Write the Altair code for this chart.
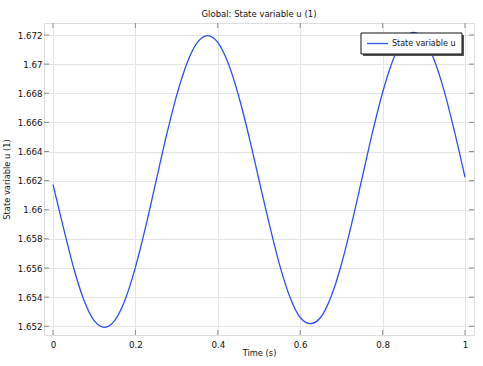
import altair as alt
import pandas as pd

# Data
time_s = [0.0, 0.025, 0.05, 0.075, 0.1, 0.125, 0.15, 0.175, 0.2, 0.225,
          0.25, 0.275, 0.3, 0.325, 0.35, 0.375, 0.4, 0.425, 0.45, 0.475,
          0.5, 0.525, 0.55, 0.575, 0.6, 0.625, 0.65, 0.675, 0.7, 0.725,
          0.75, 0.775, 0.8, 0.825, 0.85, 0.875, 0.9, 0.925, 0.95, 0.975, 1.0]
u_values = [1.66175, 1.65881, 1.65602, 1.65381, 1.65239, 1.65193, 1.65240, 1.65382, 1.65604, 1.65884,
            1.66195, 1.66505, 1.66784, 1.67005, 1.67147, 1.67196, 1.67149, 1.67008, 1.66788, 1.66511,
            1.66205, 1.65901, 1.65622, 1.65401, 1.65260, 1.65218, 1.65262, 1.65404, 1.65626, 1.65906,
            1.66215, 1.66526, 1.66805, 1.67026, 1.67168, 1.67218, 1.67170, 1.67030, 1.66810, 1.66531,
            1.66222]
x_ticks = [0, 0.2, 0.4, 0.6, 0.8, 1.0]
y_ticks = [1.652, 1.654, 1.656, 1.658, 1.66, 1.662, 1.664, 1.666, 1.668, 1.67, 1.672]
series_name = "State variable u"

W, H = 430, 312
FONT = "DejaVu Sans"
LINE_COLOR = "#2f4ff5"
FRAME = "#8c8c8c"

df = pd.DataFrame({"t": time_s, "u": u_values})
xt = pd.DataFrame({"t": x_ticks})
yt = pd.DataFrame({"u": y_ticks})

xscale = alt.Scale(domain=[-0.0218, 1.0218], nice=False, zero=False)
yscale = alt.Scale(domain=[1.65140, 1.672825], nice=False, zero=False)

xaxis = alt.Axis(values=x_ticks, format="~g", grid=True, gridColor="#e4e4e4",
                 ticks=False, domain=False, labelPadding=5, labelOverlap=False,
                 labelFont=FONT, labelFontSize=8.7, labelColor="#111",
                 titleFont=FONT, titleFontSize=8.3, titleFontWeight="normal",
                 titleColor="#111", titlePadding=0)
yaxis = alt.Axis(values=y_ticks, format="~g", grid=True, gridColor="#e4e4e4",
                 ticks=False, domain=False, labelPadding=2, labelOverlap=False,
                 labelFont=FONT, labelFontSize=8.7, labelColor="#111",
                 titleFont=FONT, titleFontSize=8.3, titleFontWeight="normal",
                 titleColor="#111", titlePadding=6)
XT = "Time (s)"
YT = "State variable u (1)"

line = alt.Chart(df).mark_line(color=LINE_COLOR, strokeWidth=1.3, interpolate="monotone").encode(
    x=alt.X("t:Q", scale=xscale, title=XT, axis=xaxis),
    y=alt.Y("u:Q", scale=yscale, title=YT, axis=yaxis),
)

tick_bottom = alt.Chart(xt).mark_rule(color=FRAME, strokeWidth=1).encode(
    x=alt.X("t:Q", scale=xscale, title=XT, axis=xaxis), y=alt.value(H), y2=alt.value(H - 5))
tick_top = alt.Chart(xt).mark_rule(color=FRAME, strokeWidth=1).encode(
    x=alt.X("t:Q", scale=xscale, title=XT, axis=xaxis), y=alt.value(0), y2=alt.value(5))
tick_left = alt.Chart(yt).mark_rule(color=FRAME, strokeWidth=1).encode(
    y=alt.Y("u:Q", scale=yscale, title=YT, axis=yaxis), x=alt.value(0), x2=alt.value(5))
tick_right = alt.Chart(yt).mark_rule(color=FRAME, strokeWidth=1).encode(
    y=alt.Y("u:Q", scale=yscale, title=YT, axis=yaxis), x=alt.value(W), x2=alt.value(W - 5))

# legend box (manual, with drop shadow)
lx, ly, lw, lh = 317, 10, 101, 21
shadow = alt.Chart(pd.DataFrame({"a": [0]})).mark_rect(fill="#555555").encode(
    x=alt.value(lx + 2), x2=alt.value(lx + lw + 2), y=alt.value(ly + 2), y2=alt.value(ly + lh + 2))
box = alt.Chart(pd.DataFrame({"a": [0]})).mark_rect(fill="white", stroke="#111", strokeWidth=1).encode(
    x=alt.value(lx), x2=alt.value(lx + lw), y=alt.value(ly), y2=alt.value(ly + lh))
leg_line = alt.Chart(pd.DataFrame({"a": [0]})).mark_rule(color=LINE_COLOR, strokeWidth=1.3).encode(
    x=alt.value(lx + 6), x2=alt.value(lx + 27), y=alt.value(ly + lh / 2))
leg_text = alt.Chart(pd.DataFrame({"name": [series_name]})).mark_text(
    align="left", baseline="middle", font=FONT, fontSize=8, color="#111").encode(
    x=alt.value(lx + 31), y=alt.value(ly + lh / 2 + 0.5), text="name:N")

chart = alt.layer(
    line, tick_bottom, tick_top, tick_left, tick_right, shadow, box, leg_line, leg_text
).properties(
    width=W, height=H,
    title=alt.TitleParams("Global: State variable u (1)", font=FONT, fontSize=8.5,
                          fontWeight="normal", color="#111", anchor="middle", offset=4),
    autosize=alt.AutoSizeParams(type="none"),
    padding={"left": 44, "top": 23, "right": 9, "bottom": 31},
).configure_view(stroke=FRAME, strokeWidth=1).configure(background="white")

chart.save("out.html", embed_options={"renderer": "svg", "actions": False})
